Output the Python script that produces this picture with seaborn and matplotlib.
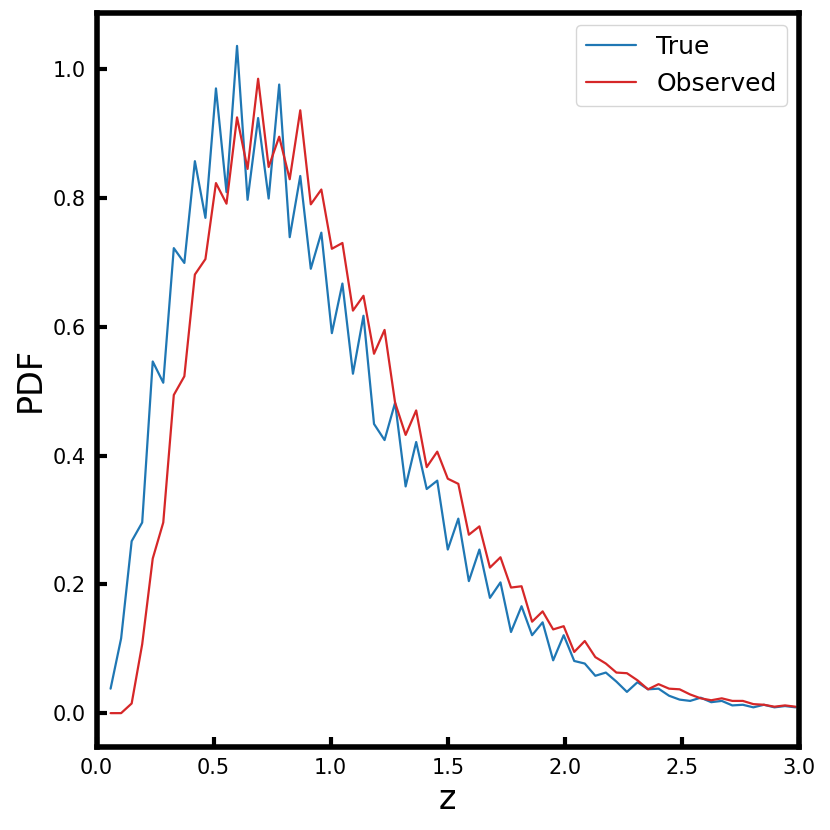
# redshift distribution: true vs observed

import numpy as np
import pandas as pd
import seaborn as sns
import matplotlib.pyplot as plt

# bin centres in z
z = np.round(np.linspace(0.06, 2.985, 66), 3)

pdf_true = [0.038, 0.116, 0.267, 0.296, 0.546, 0.513, 0.722, 0.699, 0.857, 0.769,
            0.970, 0.809, 1.036, 0.797, 0.924, 0.799, 0.976, 0.739, 0.834, 0.690,
            0.746, 0.590, 0.667, 0.527, 0.617, 0.449, 0.424, 0.482, 0.352, 0.421,
            0.348, 0.361, 0.254, 0.302, 0.205, 0.254, 0.179, 0.203, 0.126, 0.166,
            0.121, 0.141, 0.082, 0.121, 0.081, 0.077, 0.058, 0.063, 0.049, 0.033,
            0.048, 0.037, 0.038, 0.027, 0.021, 0.019, 0.024, 0.017, 0.019, 0.012,
            0.013, 0.009, 0.013, 0.009, 0.011, 0.009]

pdf_obs = [0.0, 0.0, 0.015, 0.107, 0.240, 0.296, 0.494, 0.523, 0.681, 0.705,
           0.823, 0.791, 0.925, 0.845, 0.985, 0.848, 0.895, 0.829, 0.936, 0.790,
           0.813, 0.721, 0.730, 0.625, 0.648, 0.558, 0.595, 0.482, 0.432, 0.470,
           0.382, 0.406, 0.364, 0.356, 0.277, 0.290, 0.226, 0.242, 0.195, 0.197,
           0.142, 0.158, 0.130, 0.135, 0.095, 0.112, 0.087, 0.077, 0.063, 0.062,
           0.051, 0.037, 0.045, 0.038, 0.037, 0.029, 0.023, 0.020, 0.023, 0.019,
           0.019, 0.014, 0.013, 0.010, 0.012, 0.010]

labels = ['True', 'Observed']

df = pd.DataFrame({
    'z': np.concatenate([z, z]),
    'pdf': pdf_true + pdf_obs,
    'sample': [labels[0]] * len(z) + [labels[1]] * len(z),
})

sns.set_style('ticks')
plt.rcParams['font.family'] = ['DejaVu Sans']
plt.rcParams['text.color'] = 'black'
plt.rcParams['axes.labelcolor'] = 'black'

fig = plt.figure(figsize=(8.3, 8.3), dpi=100)
ax = fig.add_axes([0.1163, 0.1006, 0.8464, 0.8843])

sns.lineplot(data=df, x='z', y='pdf', hue='sample',
             palette={'True': 'tab:blue', 'Observed': 'tab:red'},
             linewidth=1.6, ax=ax)

ax.set_xlim(0, 3.0)
ax.set_xlabel('z', fontsize=24, color='black')
ax.set_ylabel('PDF', fontsize=24, color='black')

# thick black frame, ticks inward
for side in ['left', 'right', 'top', 'bottom']:
    ax.spines[side].set_visible(True)
    ax.spines[side].set_linewidth(4)
    ax.spines[side].set_color('black')
ax.tick_params(direction='in', length=7, width=3, labelsize=15, pad=8,
               color='black', labelcolor='black')

handles, names = ax.get_legend_handles_labels()
leg = ax.legend(handles, names, fontsize=18, loc='upper right')
for t in leg.get_texts():
    t.set_color('black')

plt.savefig('out.png', dpi=100)
